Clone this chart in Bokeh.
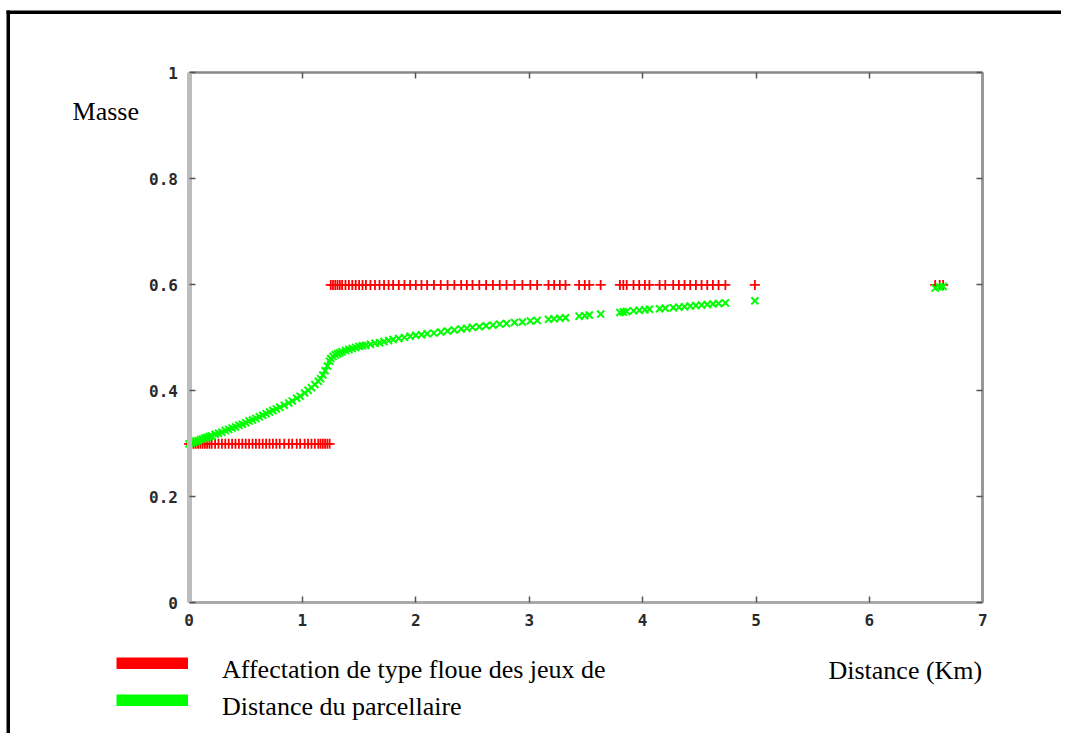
from bokeh.plotting import figure
from bokeh.models import (LinearAxis, FixedTicker, Label, Legend, LegendItem,
                          ColumnDataSource, BoxAnnotation)
from bokeh.embed import file_html
from bokeh.resources import INLINE

# ---------------- data ----------------
distance_km = [
    0.00, 0.02, 0.04, 0.06, 0.08, 0.10, 0.12, 0.14, 0.16, 0.18,
    0.20, 0.23, 0.26, 0.29, 0.32, 0.35, 0.38, 0.41, 0.44, 0.47,
    0.50, 0.53, 0.56, 0.59, 0.62, 0.65, 0.68, 0.71, 0.74, 0.77,
    0.80, 0.84, 0.88, 0.91, 0.95, 0.98, 1.02, 1.05, 1.08, 1.11,
    1.14, 1.16, 1.18, 1.20, 1.22, 1.24,
    1.25, 1.27, 1.29, 1.31, 1.33, 1.35, 1.38, 1.41, 1.44, 1.47,
    1.50, 1.53, 1.56, 1.60, 1.64, 1.68, 1.72, 1.76, 1.80, 1.85,
    1.90, 1.95, 2.00, 2.05, 2.10, 2.16, 2.22, 2.28, 2.34, 2.40,
    2.45, 2.50, 2.56, 2.62, 2.68, 2.74, 2.80, 2.87, 2.94, 3.01,
    3.07,
    3.17, 3.22, 3.27, 3.32, 3.44, 3.49, 3.53, 3.63, 3.80, 3.83,
    3.86, 3.92, 3.97, 4.02, 4.06, 4.15, 4.20, 4.27, 4.32, 4.37,
    4.42, 4.47, 4.52, 4.57, 4.62, 4.67, 4.73, 4.99, 6.58, 6.62,
    6.65,
]

masse_affectation = [
    0.3, 0.3, 0.3, 0.3, 0.3, 0.3, 0.3, 0.3, 0.3, 0.3,
    0.3, 0.3, 0.3, 0.3, 0.3, 0.3, 0.3, 0.3, 0.3, 0.3,
    0.3, 0.3, 0.3, 0.3, 0.3, 0.3, 0.3, 0.3, 0.3, 0.3,
    0.3, 0.3, 0.3, 0.3, 0.3, 0.3, 0.3, 0.3, 0.3, 0.3,
    0.3, 0.3, 0.3, 0.3, 0.3, 0.3,
    0.6, 0.6, 0.6, 0.6, 0.6, 0.6, 0.6, 0.6, 0.6, 0.6,
    0.6, 0.6, 0.6, 0.6, 0.6, 0.6, 0.6, 0.6, 0.6, 0.6,
    0.6, 0.6, 0.6, 0.6, 0.6, 0.6, 0.6, 0.6, 0.6, 0.6,
    0.6, 0.6, 0.6, 0.6, 0.6, 0.6, 0.6, 0.6, 0.6, 0.6,
    0.6,
    0.6, 0.6, 0.6, 0.6, 0.6, 0.6, 0.6, 0.6, 0.6, 0.6,
    0.6, 0.6, 0.6, 0.6, 0.6, 0.6, 0.6, 0.6, 0.6, 0.6,
    0.6, 0.6, 0.6, 0.6, 0.6, 0.6, 0.6, 0.6, 0.6, 0.6,
    0.6,
]

masse_parcellaire = [
    0.300, 0.302, 0.303, 0.305, 0.306, 0.308, 0.309, 0.311, 0.312, 0.314,
    0.315, 0.318, 0.320, 0.322, 0.325, 0.327, 0.330, 0.332, 0.335, 0.337,
    0.340, 0.343, 0.345, 0.348, 0.351, 0.354, 0.357, 0.360, 0.363, 0.366,
    0.369, 0.373, 0.377, 0.381, 0.386, 0.390, 0.396, 0.401, 0.406, 0.412,
    0.418, 0.423, 0.430, 0.438, 0.447, 0.456,
    0.461, 0.465, 0.468, 0.470, 0.472, 0.474, 0.476, 0.478, 0.480, 0.482,
    0.484, 0.485, 0.486, 0.488, 0.490, 0.491, 0.493, 0.495, 0.497, 0.499,
    0.501, 0.503, 0.505, 0.506, 0.508, 0.509, 0.511, 0.513, 0.515, 0.517,
    0.518, 0.520, 0.521, 0.523, 0.524, 0.526, 0.527, 0.529, 0.530, 0.532,
    0.533,
    0.535, 0.536, 0.537, 0.538, 0.541, 0.542, 0.543, 0.545, 0.548, 0.549,
    0.550, 0.551, 0.552, 0.553, 0.554, 0.555, 0.556, 0.557, 0.558, 0.559,
    0.560, 0.561, 0.562, 0.563, 0.564, 0.565, 0.566, 0.570, 0.594, 0.596,
    0.597,
]

x_ticks = [0, 1, 2, 3, 4, 5, 6, 7]
x_tick_labels = ["0", "1", "2", "3", "4", "5", "6", "7"]
y_ticks = [0, 0.2, 0.4, 0.6, 0.8, 1]
y_tick_labels = ["0", "0.2", "0.4", "0.6", "0.8", "1"]
series_names = ["Affectation de type floue des jeux de", "Distance du parcellaire"]
series_colors = ["#ff0000", "#00ff00"]
x_title = "Distance (Km)"
y_title = "Masse"

# ---------------- figure ----------------
# The frame fills the whole canvas; the axes are pinned (fixed_location) on the
# data box [0,7] x [0,1], so texts placed in the margins are not clipped.
W, H = 1061, 733
p = figure(width=W, height=H, x_range=(-1.6623, 7.6940), y_range=(-0.2467, 1.13684),
           output_backend="svg", toolbar_location=None, min_border=0,
           x_axis_location=None, y_axis_location=None)
p.background_fill_color = "white"
p.border_fill_color = "white"
p.outline_line_color = None
p.xgrid.visible = False
p.ygrid.visible = False

TICK_FONT = "DejaVu Sans Mono"

def make_axis(ticks, labels, loc, bounds, line_color, line_width, show_labels):
    ax = LinearAxis(fixed_location=loc, bounds=bounds)
    ax.ticker = FixedTicker(ticks=ticks)
    ax.major_label_overrides = {t: l for t, l in zip(ticks, labels)}
    ax.major_tick_in = 6
    ax.major_tick_out = 0
    ax.minor_tick_line_color = None
    ax.major_tick_line_color = "#555555"
    ax.major_tick_line_width = 1.5
    ax.axis_line_color = line_color
    ax.axis_line_width = line_width
    ax.major_label_text_font = TICK_FONT
    ax.major_label_text_font_style = "bold"
    ax.major_label_text_font_size = "16px"
    ax.major_label_text_color = "#2a2a2a"
    ax.major_label_standoff = 11
    if not show_labels:
        ax.major_label_text_alpha = 0
    return ax

p.add_layout(make_axis(x_ticks, x_tick_labels, 0, (0, 7), "#aaaaaa", 3, True), "below")
p.add_layout(make_axis(y_ticks, y_tick_labels, 0, (0, 1), "#bdbdbd", 5, True), "left")
p.add_layout(make_axis(x_ticks, x_tick_labels, 1, (0, 7), "#888888", 2.5, False), "above")
p.add_layout(make_axis(y_ticks, y_tick_labels, 7, (0, 1), "#999999", 3, False), "right")

src = ColumnDataSource(dict(d=distance_km, a=masse_affectation, b=masse_parcellaire))
p.scatter("d", "a", source=src, marker="cross", size=10,
          line_color=series_colors[0], line_width=1.8)
p.scatter("d", "b", source=src, marker="x", size=10,
          line_color=series_colors[1], line_width=2)

# legend: colour bars and the series names (names sit a little lower than the bars)
nan = float("nan")
bar_proxies = [p.line(x=[nan], y=[nan], line_color=c, line_width=12) for c in series_colors]
text_proxies = [p.line(x=[nan], y=[nan], line_alpha=0) for c in series_colors]

common = dict(orientation="vertical", glyph_width=72, glyph_height=12, label_standoff=34,
              label_height=25, padding=0, margin=0,
              border_line_color=None, background_fill_alpha=0,
              label_text_font="Liberation Serif", label_text_font_size="26px",
              label_text_color="black")
legend_bars = Legend(items=[LegendItem(label=" ", renderers=[r]) for r in bar_proxies],
                     location=(116, 20.5), spacing=12, **common)
legend_text = Legend(items=[LegendItem(label=n, renderers=[r])
                            for n, r in zip(series_names, text_proxies)],
                     location=(116, 11), spacing=7, **common)
p.add_layout(legend_bars)
p.add_layout(legend_text)

p.add_layout(Label(x=-1.027, y=0.927, text=y_title, text_font="Liberation Serif",
                   text_font_size="26px", text_color="black", text_baseline="alphabetic"))
p.add_layout(Label(x=5.639, y=-0.127, text=x_title, text_font="Liberation Serif",
                   text_font_size="26px", text_color="black", text_baseline="alphabetic"))

# black page frame (left and top edges)
p.add_layout(BoxAnnotation(left=-1.6093, right=-1.5785, top=1.11797,
                           fill_color="black", fill_alpha=1, line_color=None))
p.add_layout(BoxAnnotation(left=-1.6093, top=1.11797, bottom=1.11137,
                           fill_color="black", fill_alpha=1, line_color=None))

open("out.html", "w").write(file_html(p, INLINE))
